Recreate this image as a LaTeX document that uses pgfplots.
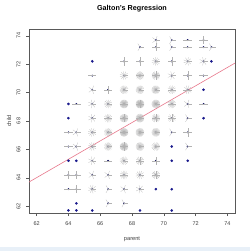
\documentclass[border=0pt]{standalone}
\usepackage{pgfplots}
\pgfplotsset{compat=1.18}
\usepackage{pgfplotstable}
\usepackage{fontspec}
\setmainfont{Liberation Sans}
\definecolor{dotblue}{RGB}{25,25,140}
\definecolor{regline}{RGB}{232,120,140}
\definecolor{bandblue}{RGB}{232,240,248}

\pgfplotstableread{
x y
65.5 72.2
73.0 72.2
72.5 70.2
64.0 69.2
64.0 68.2
72.5 68.2
70.5 66.2
64.0 65.2
64.5 65.2
70.5 65.2
71.5 65.2
69.5 63.2
70.5 63.2
64.5 62.2
64.0 61.7
64.5 61.7
65.5 61.7
68.5 61.7
70.5 61.7
}\singles

\pgfplotstableread{
x y n
69.5 73.7 5
70.5 73.7 3
71.5 73.7 2
72.5 73.7 4
68.5 73.2 3
69.5 73.2 4
70.5 73.2 3
71.5 73.2 2
72.5 73.2 2
73.0 73.2 3
67.5 72.2 4
68.5 72.2 4
69.5 72.2 11
70.5 72.2 4
71.5 72.2 9
72.5 72.2 7
65.5 71.2 2
67.5 71.2 11
68.5 71.2 18
69.5 71.2 20
70.5 71.2 7
71.5 71.2 4
72.5 71.2 2
65.5 70.2 5
66.5 70.2 4
67.5 70.2 19
68.5 70.2 21
69.5 70.2 25
70.5 70.2 14
71.5 70.2 10
64.5 69.2 2
65.5 69.2 7
66.5 69.2 13
67.5 69.2 38
68.5 69.2 48
69.5 69.2 33
70.5 69.2 18
71.5 69.2 5
72.5 69.2 2
65.5 68.2 7
66.5 68.2 14
67.5 68.2 28
68.5 68.2 34
69.5 68.2 20
70.5 68.2 12
71.5 68.2 3
64.0 67.2 2
64.5 67.2 5
65.5 67.2 11
66.5 67.2 17
67.5 67.2 38
68.5 67.2 31
69.5 67.2 27
70.5 67.2 3
71.5 67.2 4
64.0 66.2 2
64.5 66.2 5
65.5 66.2 11
66.5 66.2 17
67.5 66.2 36
68.5 66.2 25
69.5 66.2 17
71.5 66.2 3
65.5 65.2 7
66.5 65.2 2
67.5 65.2 15
68.5 65.2 16
69.5 65.2 4
64.0 64.2 4
64.5 64.2 4
65.5 64.2 5
66.5 64.2 5
67.5 64.2 14
68.5 64.2 11
69.5 64.2 16
64.0 63.2 2
64.5 63.2 4
65.5 63.2 9
66.5 63.2 3
67.5 63.2 5
68.5 63.2 7
66.5 62.2 3
67.5 62.2 3
}\multis

\pgfdeclareplotmark{sunflower}{%
  \pgfmathfloatparsenumber{\cnt}%
  \pgfmathfloattoint{\pgfmathresult}%
  \edef\nn{\pgfmathresult}%
  \pgfmathsetmacro{\stp}{360/\nn}%
  \foreach \k in {1,...,\nn}{%
    \pgfpathmoveto{\pgfpointorigin}%
    \pgfpathlineto{\pgfpointpolar{\stp*\k}{4.2pt}}%
    \pgfusepath{stroke}%
  }%
}

\begin{document}
\begin{tikzpicture}
\fill[white] (0,0) rectangle (250pt,251pt);
\fill[bandblue] (0,0) rectangle (250pt,3.5pt);
\begin{axis}[
  at={(29pt,38pt)}, anchor=south west,
  scale only axis, width=206pt, height=184pt,
  xmin=61.52, xmax=74.48, ymin=61.52, ymax=74.48,
  xtick={62,64,...,74}, ytick={62,64,...,74},
  tick pos=left, tick align=outside,
  major tick length=3pt,
  axis line style={black!65, line width=0.4pt},
  every tick/.style={black!65, line width=0.4pt},
  /pgf/number format/assume math mode=true,
  tick label style={font=\fontsize{5.5}{6}\selectfont, text=black!75},
  xticklabel shift=2pt,
  yticklabel style={rotate=90, anchor=south},
  yticklabel shift=2pt,
  title={Galton's Regression},
  title style={font=\bfseries\fontsize{7.2}{8}\selectfont, at={(axis description cs:0.5,1.076)}, anchor=center},
  xlabel={parent}, ylabel={child},
  label style={font=\fontsize{5.7}{6}\selectfont, text=black!75},
  xlabel style={at={(axis description cs:0.5,-0.141)}, anchor=center},
  ylabel style={at={(axis description cs:-0.097,0.5)}, anchor=center},
  clip=true,
]
\addplot[only marks, mark=*, mark size=1.1pt, dotblue] table[x=x,y=y] {\singles};
\addplot[only marks, mark=*, mark size=0.7pt, dotblue!70!black] table[x=x,y=y] {\multis};
\addplot[only marks, mark=sunflower, draw=black!30, mark options={line width=0.22pt, draw=black!30},
  visualization depends on={\thisrow{n}\as\cnt}] table[x=x,y=y] {\multis};
\addplot[regline, line width=0.6pt] coordinates {(61.52,63.70) (74.48,72.08)};
\end{axis}
\end{tikzpicture}
\end{document}
